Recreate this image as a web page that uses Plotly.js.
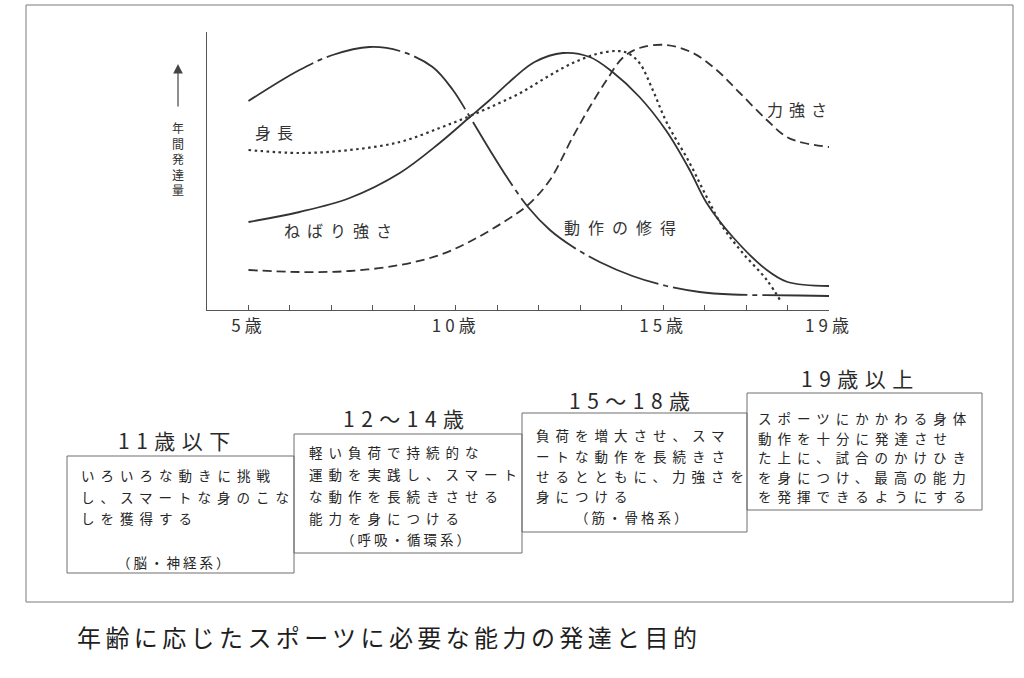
<!DOCTYPE html>
<html>
<head>
<meta charset="utf-8">
<script src="https://cdn.plot.ly/plotly-3.0.1.min.js"></script>
<style>html,body{margin:0;padding:0;background:#fff;}</style>
</head>
<body>
<div id="chart" style="width:1024px;height:678px;"></div>
<script>
// ---- data (age in years, annual development amount in arbitrary units) ----
const motionAge   = [5, 6.23, 7.03, 7.92, 8.65, 9.44, 9.93, 10.34, 10.82, 11.23, 11.74, 12.27, 12.83, 13.47, 14.26, 15.08, 15.88, 16.68, 18.29, 19];
const motionVal   = [209, 240, 255, 263, 259, 243, 220, 193, 160, 133, 103, 80, 63, 48, 34, 24, 18, 15.5, 14.5, 14];

const enduranceAge = [5, 6.23, 7.44, 8.65, 9.61, 10.34, 10.82, 11.4, 11.9, 12.58, 13.23, 13.78, 14.43, 15.08, 15.64, 16.05, 16.68, 17.5, 18.0, 19];
const enduranceVal = [88, 98, 112, 137, 167, 193, 210, 232, 248, 257, 253, 238, 213, 179, 140, 107, 73, 40, 28, 24];

const heightAge = [5, 6.23, 7.44, 8.65, 9.61, 10.34, 11.0, 11.6, 12.2, 12.82, 13.4, 13.88, 14.14, 14.43, 14.75, 15.08, 15.64, 16.05, 16.44, 16.92, 17.5, 17.86];
const heightVal = [160, 157, 160, 168, 182, 194, 206, 218, 233, 247, 256, 259, 257, 247, 220, 188, 147, 113, 83, 57, 30, 7];

const strengthAge = [5, 6.23, 7.44, 8.65, 9.61, 10.41, 11.23, 11.74, 12.27, 12.82, 13.23, 13.64, 14.02, 14.43, 15.08, 15.72, 16.29, 16.85, 17.5, 17.98, 18.4, 19];
const strengthVal = [40, 38, 39, 45, 55, 70, 90, 105, 130, 173, 203, 230, 252, 262, 265, 257, 240, 217, 190, 173, 167, 163];

const tickAges   = [5, 6, 7, 8, 9, 10, 11, 12, 13, 14, 15, 16, 17, 18, 19];
const tickLabels = ['5歳', '', '', '', '', '10歳', '', '', '', '', '15歳', '', '', '', '19歳'];

const curveNames = ['動作の修得', 'ねばり強さ', '身長', '力強さ'];
const yAxisTitle = ['年', '間', '発', '達', '量'];

const stageTitles = ['11歳以下', '12〜14歳', '15〜18歳', '19歳以上'];
const stageTexts = [
  ['いろいろな動きに挑戦', 'し、スマートな身のこな', 'しを獲得する'],
  ['軽い負荷で持続的な', '運動を実践し、スマート', 'な動作を長続きさせる', '能力を身につける'],
  ['負荷を増大させ、スマ', 'ートな動作を長続きさ', 'せるとともに、力強さを', '身につける'],
  ['スポーツにかかわる身体', '動作を十分に発達させ', 'た上に、試合のかけひき', 'を身につけ、最高の能力', 'を発揮できるようにする']
];
const stageSystems = ['（脳・神経系）', '（呼吸・循環系）', '（筋・骨格系）', ''];
const caption = '年齢に応じたスポーツに必要な能力の発達と目的';

// ---- layout helpers (pixel -> paper) ----
const L = 207, R = 829, T = 32, B = 310;
const PX = p => (p - L) / (R - L);
const PY = p => (B - p) / (B - T);
const sp = (t, s) => `<span style="letter-spacing:${s}px">${t}</span>`;

const INK = '#333333';
const FONT = '"Noto Sans CJK JP", "Noto Sans", sans-serif';

const traces = [
  {x: motionAge, y: motionVal, mode: 'lines', line: {shape: 'spline', smoothing: 1, color: INK, width: 1.8, dash: '75px,5px,5px,5px'}},
  {x: enduranceAge, y: enduranceVal, mode: 'lines', line: {shape: 'spline', smoothing: 1, color: INK, width: 1.8}},
  {x: heightAge, y: heightVal, mode: 'lines', line: {shape: 'spline', smoothing: 1, color: INK, width: 2.2, dash: '2.5px,3.5px'}},
  {x: strengthAge, y: strengthVal, mode: 'lines', line: {shape: 'spline', smoothing: 1, color: INK, width: 1.8, dash: '9px,5px'}}
];

const ann = [];
// curve labels
const labelPos = [[624, 227], [341, 230], [277, 132], [800, 109]];
const labelSp = [8, 7, 6, 6];
curveNames.forEach((n, i) => {
  ann.push({xref: 'paper', yref: 'paper', x: PX(labelPos[i][0]), y: PY(labelPos[i][1]), text: sp(n, labelSp[i]),
    showarrow: false, xanchor: 'center', yanchor: 'middle', font: {size: 16, color: '#333', family: FONT}});
});
// y axis title, vertical (one character per line)
ann.push({xref: 'paper', yref: 'paper', x: PX(178), y: PY(158), text: yAxisTitle.join('<br>'), showarrow: false,
  xanchor: 'center', yanchor: 'middle', align: 'center', font: {size: 12, color: '#333', family: FONT}});
// arrow
ann.push({xref: 'paper', yref: 'paper', x: PX(178), y: PY(64), ax: 0, ay: 44, text: '', showarrow: true,
  arrowhead: 2, arrowsize: 1.6, arrowwidth: 1.2, arrowcolor: '#444'});

// stage boxes
const boxes = [[67, 294, 456, 573], [294, 522, 434, 553], [522, 747, 413, 532], [747, 982, 393, 510]];
const titlePos = [[177, 440], [407, 418], [633, 400], [860, 378]];
const textX = [80, 308, 535, 757];
const lineY = [[475, 497, 518], [452, 474, 496, 518], [435, 456, 476, 496], [418, 437.5, 457, 476.5, 496]];
const sysPos = [[175, 562], [407, 539], [633, 517], [0, 0]];
const TXT = {size: 13.5, color: '#262626', family: FONT};
const shapes = [];
boxes.forEach((b, i) => {
  shapes.push({type: 'rect', xref: 'paper', yref: 'paper', x0: PX(b[0]), x1: PX(b[1]), y0: PY(b[3]), y1: PY(b[2]),
    line: {color: '#6f6f6f', width: 1}, fillcolor: 'rgba(0,0,0,0)'});
  ann.push({xref: 'paper', yref: 'paper', x: PX(titlePos[i][0]), y: PY(titlePos[i][1]), text: sp(stageTitles[i], 6.5),
    showarrow: false, xanchor: 'center', yanchor: 'middle', font: {size: 21, color: '#2a2a2a', family: FONT}});
  stageTexts[i].forEach((line, k) => {
    ann.push({xref: 'paper', yref: 'paper', x: PX(textX[i]), y: PY(lineY[i][k]), text: sp(line, 6),
      showarrow: false, xanchor: 'left', yanchor: 'middle', borderpad: 0, font: TXT});
  });
  if (stageSystems[i]) {
    ann.push({xref: 'paper', yref: 'paper', x: PX(sysPos[i][0]), y: PY(sysPos[i][1]), text: sp(stageSystems[i], 3),
      showarrow: false, xanchor: 'center', yanchor: 'middle', borderpad: 0, font: TXT});
  }
});
// outer frame
shapes.push({type: 'rect', xref: 'paper', yref: 'paper', x0: PX(26), x1: PX(1013), y0: PY(602), y1: PY(5),
  line: {color: '#7a7a7a', width: 1}, fillcolor: 'rgba(0,0,0,0)', layer: 'below'});
// caption
ann.push({xref: 'paper', yref: 'paper', x: PX(75), y: PY(636), text: sp(caption, 4.4), showarrow: false,
  xanchor: 'left', yanchor: 'middle', font: {size: 24, color: '#1e1e1e', family: FONT}});

const layout = {
  width: 1024, height: 678,
  margin: {l: L, r: 1024 - R, t: T, b: 678 - B, pad: 0},
  paper_bgcolor: '#ffffff', plot_bgcolor: '#ffffff',
  showlegend: false,
  font: {family: FONT, color: INK},
  xaxis: {range: [4, 19], showgrid: false, zeroline: false, showline: true, linecolor: '#555', linewidth: 1.2,
    tickmode: 'array', tickvals: tickAges, ticktext: tickLabels.map(t => t ? sp(t, 4) : ''),
    ticks: 'inside', ticklen: 5, tickcolor: '#555', tickwidth: 1,
    tickfont: {size: 17, color: '#333', family: FONT}, fixedrange: true},
  yaxis: {range: [0, 278], showgrid: false, zeroline: false, showline: true, linecolor: '#555', linewidth: 1.2,
    showticklabels: false, ticks: '', fixedrange: true},
  shapes: shapes,
  annotations: ann
};

Plotly.newPlot('chart', traces, layout, {staticPlot: true, displayModeBar: false});
</script>
</body>
</html>
